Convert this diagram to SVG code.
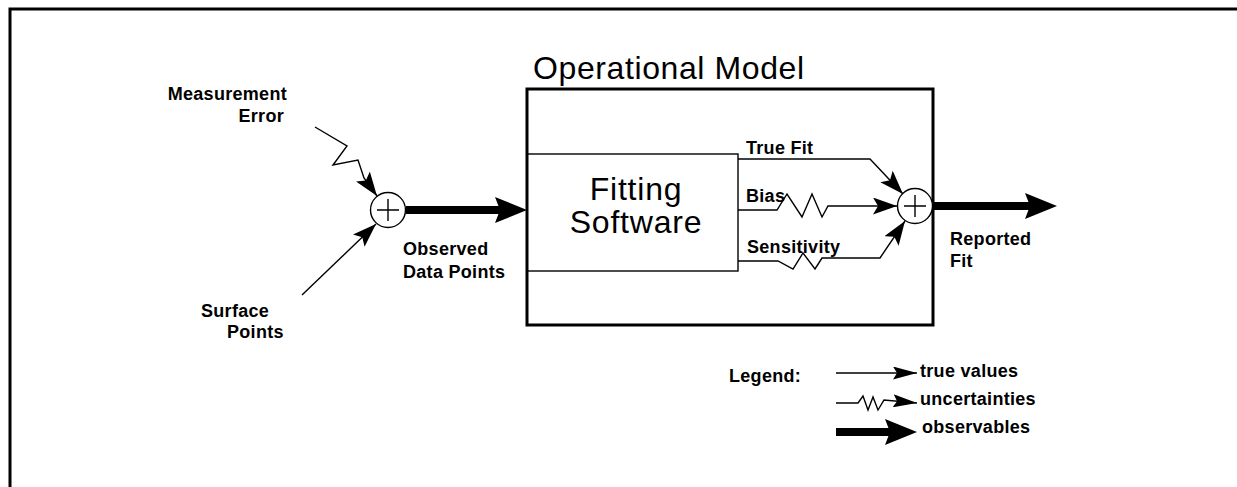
<svg xmlns="http://www.w3.org/2000/svg" width="1237" height="487" viewBox="0 0 1237 487">
<style>
.lbl{font-family:"Liberation Sans",Arial,sans-serif;font-weight:bold;font-size:18px;fill:#000;letter-spacing:0.3px}
.big{font-family:"Liberation Sans",Arial,sans-serif;font-size:32px;fill:#000}
.thin{fill:none;stroke:#000;stroke-width:1.4;stroke-linejoin:miter}
.thick{fill:none;stroke:#000;stroke-width:8}
.sum{fill:#fff;stroke:#000;stroke-width:1.4}
</style>
<defs>
<marker id="ah" viewBox="0 0 24 17" refX="24" refY="8.5" markerWidth="24" markerHeight="17" markerUnits="userSpaceOnUse" orient="auto">
<path d="M0,0 L24,8.5 L0,17 L5,8.5 Z" fill="#000"/>
</marker>
<marker id="ahs" viewBox="0 0 24 13" refX="24" refY="6.5" markerWidth="24" markerHeight="13" markerUnits="userSpaceOnUse" orient="auto">
<path d="M0,0 L24,6.5 L0,13 L4,6.5 Z" fill="#000"/>
</marker>
<marker id="ahb" viewBox="0 0 32 26" refX="5" refY="13" markerWidth="32" markerHeight="26" markerUnits="userSpaceOnUse" orient="auto">
<path d="M0,0 L32,13 L0,26 L5,13 Z" fill="#000"/>
</marker>
</defs>
<g id="frame">
<path d="M10,487 L10,9 L1237,9" fill="none" stroke="#000" stroke-width="3"/>
</g>
<g id="operational-model">
<rect x="527" y="89" width="406" height="236" fill="none" stroke="#000" stroke-width="3"/>
<text class="big" x="533" y="79" style="letter-spacing:0.6px">Operational Model</text>
</g>
<g id="fitting-software">
<rect x="527" y="154" width="211" height="117" fill="none" stroke="#000" stroke-width="1.4"/>
<text class="big" x="636" y="200" text-anchor="middle" style="letter-spacing:0.8px">Fitting</text>
<text class="big" x="636" y="233" text-anchor="middle" style="letter-spacing:0.8px">Software</text>
</g>
<g id="sum1">
<circle class="sum" cx="388" cy="210" r="17.5"/>
<path class="thin" d="M377,210 H399 M388,199 V221"/>
</g>
<g id="sum2">
<circle class="sum" cx="915" cy="206" r="17.5"/>
<path class="thin" d="M904,206 H926 M915,195 V217"/>
</g>
<g id="labels">
<text class="lbl" x="287" y="100" text-anchor="end">Measurement</text>
<text class="lbl" x="284" y="122" text-anchor="end">Error</text>
<text class="lbl" x="201" y="317">Surface</text>
<text class="lbl" x="227" y="338">Points</text>
<text class="lbl" x="403" y="255">Observed</text>
<text class="lbl" x="403" y="278">Data Points</text>
<text class="lbl" x="746" y="154">True Fit</text>
<text class="lbl" x="746" y="202">Bias</text>
<text class="lbl" x="747" y="253">Sensitivity</text>
<text class="lbl" x="950" y="245">Reported</text>
<text class="lbl" x="950" y="267">Fit</text>
</g>
<g id="connectors">
<path class="thin" d="M315,127 L347,146 L333,165 L358,160 L364,178 L377,196" marker-end="url(#ah)"/>
<path class="thin" d="M302,295 L376,224" marker-end="url(#ah)"/>
<path class="thick" d="M406,210 L500,210" marker-end="url(#ahb)"/>
<path class="thin" d="M738,159 L870,159 L903,194" marker-end="url(#ah)"/>
<path class="thin" d="M738,210 L777,210 L787,194 L802,217 L812,194 L822,217 L828,206 L897,206" marker-end="url(#ah)"/>
<path class="thin" d="M738,261 L778,261 L793,269 L803,253 L815,269 L822,258 L880,258 L905,221" marker-end="url(#ah)"/>
<path class="thick" d="M933,206 L1030,206" marker-end="url(#ahb)"/>
</g>
<g id="legend">
<text class="lbl" x="729" y="382">Legend:</text>
<path class="thin" d="M836,373 L917,373" marker-end="url(#ahs)"/>
<text class="lbl" x="920" y="377">true values</text>
<path class="thin" d="M836,403 L858,403 L863,396 L868,410 L873,397 L878,410 L884,400 L917,403" marker-end="url(#ahs)"/>
<text class="lbl" x="920" y="405">uncertainties</text>
<path class="thick" d="M836,432 L890,432" marker-end="url(#ahb)"/>
<text class="lbl" x="922" y="433">observables</text>
</g>
</svg>
